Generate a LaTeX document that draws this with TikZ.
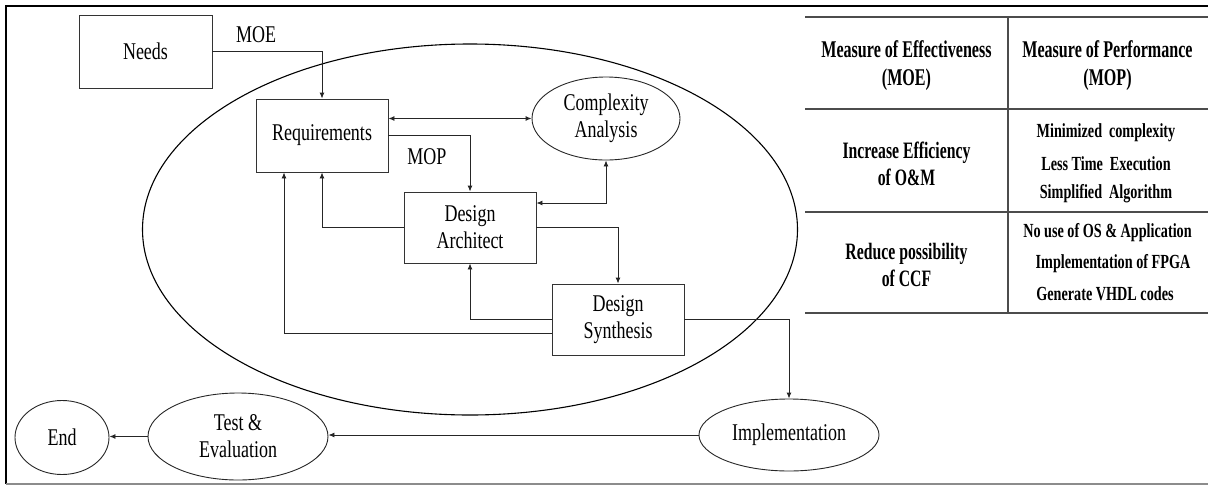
\documentclass[tikz,border=0pt]{standalone}
\usepackage{fontspec}
\setmainfont{Liberation Serif}[FakeStretch=0.75]
\newfontfamily\tabfont{Liberation Serif}[FakeStretch=0.67]
\newfontfamily\tabfontb{Liberation Serif}[FakeStretch=0.71]
\usetikzlibrary{shapes.geometric,arrows.meta}
\begin{document}
\begin{tikzpicture}[x=1pt,y=-1pt,
  lbl/.style={font=\fontsize{24}{27}\selectfont, align=center, inner sep=0pt},
  boxnode/.style={draw=black!80, line width=0.9pt, rectangle, inner sep=0pt, font=\fontsize{24}{27}\selectfont, align=center},
  ellnode/.style={draw=black!85, line width=0.9pt, ellipse, inner sep=0pt, font=\fontsize{24}{27}\selectfont, align=center},
  conn/.style={draw=black!85, line width=0.9pt, -{Latex[length=6pt,width=5pt]}},
  conn2/.style={draw=black!85, line width=0.9pt, {Latex[length=6pt,width=5pt]}-{Latex[length=6pt,width=5pt]}},
  hdr/.style={font=\tabfont\bfseries\fontsize{24}{28}\selectfont, align=center, inner sep=0pt},
  cellA/.style={font=\tabfont\bfseries\fontsize{23.5}{27}\selectfont, align=center, inner sep=0pt},
  cellB/.style={font=\tabfontb\bfseries\fontsize{20}{22}\selectfont, inner sep=0pt},
  tline/.style={draw=black!70, line width=1.1pt}
]
\useasboundingbox (0,0) rectangle (1208,488);
% frame
\draw[line width=2pt, black] (1210,6) -- (6,6) -- (6,484);
\draw[line width=1.5pt, black!45] (6,484) -- (1210,484);

% big ellipse
\node[ellipse, draw=black, line width=1.1pt, minimum width=655pt, minimum height=371pt, inner sep=0pt] (cycle) at (470,229.5) {};

% nodes
\node[boxnode, minimum width=133pt, minimum height=73pt] (needs) at (145.5,51.5) {Needs};
\node[boxnode, minimum width=132pt, minimum height=73pt] (req) at (322,135.5) {Requirements};
\node[ellnode, minimum width=148pt, minimum height=83pt] (comp) at (606,118.5) {Complexity\\Analysis};
\node[boxnode, minimum width=132pt, minimum height=71pt] (arch) at (470,227.5) {Design\\Architect};
\node[boxnode, minimum width=132pt, minimum height=71pt] (syn) at (618,319.5) {Design\\Synthesis};
\node[ellnode, minimum width=180pt, minimum height=72pt] (impl) at (789,435) {Implementation};
\node[ellnode, minimum width=180pt, minimum height=87pt] (test) at (238,436.5) {Test \&\\Evaluation};
\node[ellnode, minimum width=94pt, minimum height=74pt] (end) at (62,437.5) {End};

\node[lbl] (moe) at (256,35) {MOE};
\node[lbl] (mop) at (427,157) {MOP};

% connectors
\draw[conn] (needs.east) -| (req.north);
\draw[conn2] (req.east |- comp.west) -- (comp.west);
\draw[conn] (req.east) -| (arch.north);
\draw[conn2] (comp.south) |- ([yshift=24.5pt]arch.east);
\draw[conn] (arch.west) -| (req.south);
\draw[conn] (arch.east) -| (syn.north);
\draw[conn] (syn.west) -| (arch.south);
\draw[conn] ([yshift=-13.5pt]syn.west) -| ([xshift=-38pt]req.south);
\draw[conn] (syn.east) -| (impl.north);
\draw[conn] (impl.west) -- (impl.west -| test.east);
\draw[conn] (test.west) -- (test.west -| end.east);

% table
\coordinate (tTL) at (805,17);
\coordinate (tTR) at (1210,17);
\draw[tline] (tTL) -- (tTR);
\draw[tline] (805,109) -- (1210,109);
\draw[tline] (805,212) -- (1210,212);
\draw[tline] (805,313) -- (1210,313);
\draw[tline] (1008,17) -- (1008,313);

\node[hdr] (h1) at (906.5,66) {Measure of Effectiveness\\(MOE)};
\node[hdr] (h2) at (1107.5,66) {Measure of Performance\\(MOP)};
\node[cellA] (a1) at (906.5,163.5) {Increase Efficiency\\of O\&M};
\node[cellA] (a2) at (906.5,265) {Reduce possibility\\of CCF};
\node[cellB] (b1) at (1106,133) {Minimized\, complexity};
\node[cellB] (b2) at (1106,164) {Less Time\, Execution};
\node[cellB] (b3) at (1106,194) {Simplified\, Algorithm};
\node[cellB] (b4) at (1107.5,233) {No use of OS \& Application};
\node[cellB] (b5) at (1113,264) {Implementation of FPGA};
\node[cellB] (b6) at (1105,294) {Generate VHDL codes};
\end{tikzpicture}
\end{document}
